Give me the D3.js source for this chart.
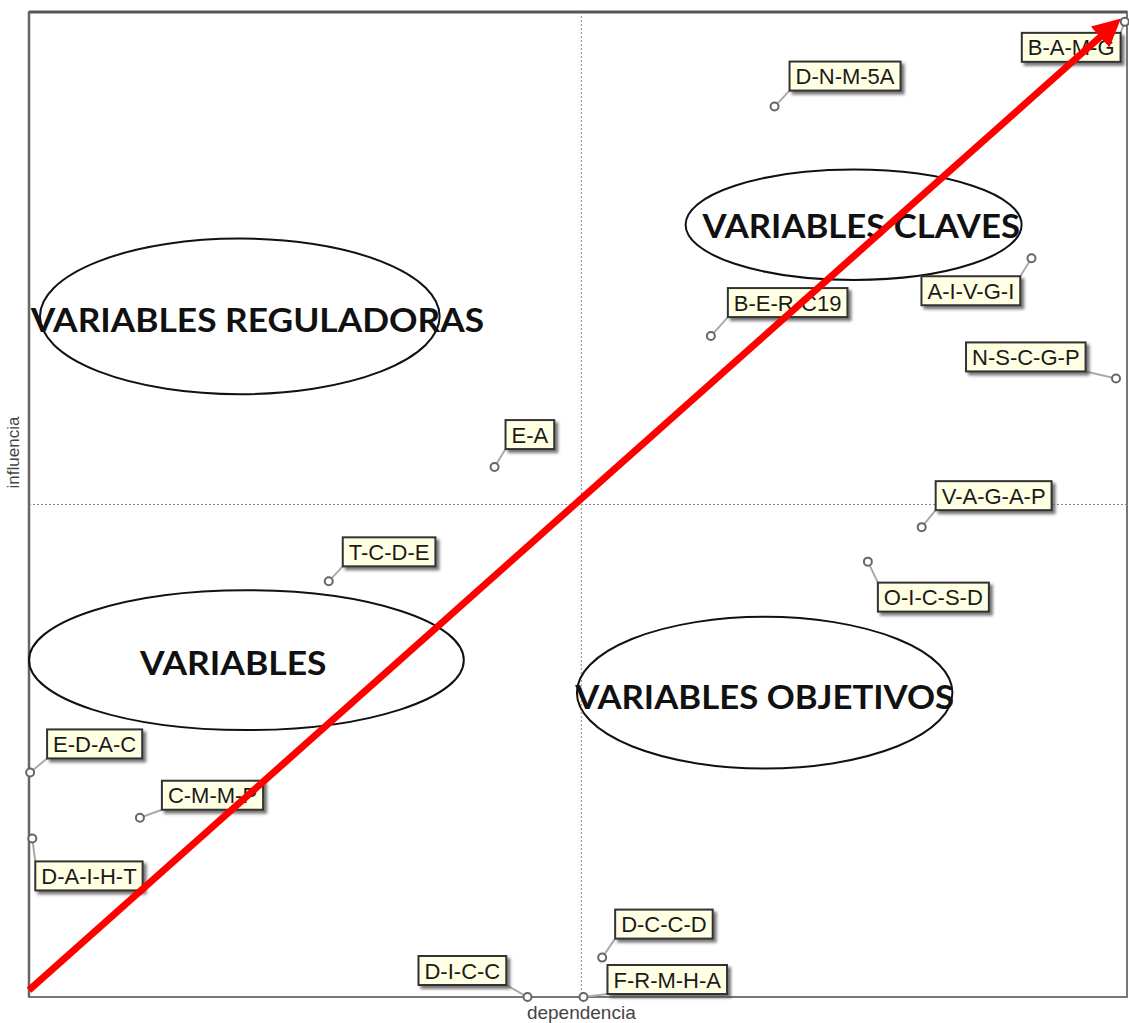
<!DOCTYPE html>
<html>
<head>
<meta charset="utf-8">
<script src="https://cdn.jsdelivr.net/npm/d3@7"></script>
<style>
  body { margin: 0; background: #fff; }
  svg { display: block; }
</style>
</head>
<body>
<script>
// variables (MICMAC) - dependencia / influencia
const names = ["B-A-M-G", "D-N-M-5A", "B-E-R-C19", "A-I-V-G-I", "N-S-C-G-P", "E-A", "T-C-D-E",
  "V-A-G-A-P", "O-I-C-S-D", "E-D-A-C", "C-M-M-P", "D-A-I-H-T", "D-I-C-C", "D-C-C-D", "F-R-M-H-A"];
const dependencia = [99.8, 67.9, 62.1, 91.3, 99.0, 42.4, 27.3, 81.3, 76.4, 0.1, 10.1, 0.3, 45.4, 52.2, 50.5];
const influencia = [99.0, 90.4, 67.1, 75.0, 62.8, 53.8, 42.2, 47.7, 44.2, 22.8, 18.2, 16.1, 0.0, 4.0, 0.0];

// mean lines splitting the quadrants
const xMid = 50.3, yMid = 50;

// where each label box sits relative to its point (px)
const labelOffsets = {
  "B-A-M-G": [-103, 11], "D-N-M-5A": [15, -45], "B-E-R-C19": [17, -48], "A-I-V-G-I": [-110, 18],
  "N-S-C-G-P": [-150, -36], "E-A": [11, -47], "T-C-D-E": [14, -44], "V-A-G-A-P": [14, -46],
  "O-I-C-S-D": [10, 21], "E-D-A-C": [17, -43], "C-M-M-P": [22, -37], "D-A-I-H-T": [3, 23],
  "D-I-C-C": [-109, -41], "D-C-C-D": [13, -48], "F-R-M-H-A": [24, -32]
};

// quadrant zones (data units)
const zoneNames = ["VARIABLES CLAVES", "VARIABLES REGULADORAS", "VARIABLES", "VARIABLES OBJETIVOS"];
const zoneCenters = [[75.1, 78.4], [19.2, 69.1], [19.8, 34.2], [67.0, 30.9]];
const zoneRadii = [[15.3, 5.6], [18.2, 7.9], [19.8, 7.1], [17.1, 7.7]];
const zoneText = [[75.8, 77.1, 28.9], [20.8, 67.5, 41.3], [18.6, 32.7, 17.0], [67.0, 29.2, 34.5]];

const arrowFrom = [0, 0.7];
const arrowTo = [98.5, 98.4];

const W = 1129, H = 1023;
const mLeft = 29, mTop = 12, mRight = 1127, mBottom = 997;

const svg = d3.select("body").append("svg").attr("width", W).attr("height", H);

const defs = svg.append("defs");
const f = defs.append("filter").attr("id", "shadow").attr("x", "-20%").attr("y", "-30%")
  .attr("width", "150%").attr("height", "180%");
f.append("feDropShadow").attr("dx", 3).attr("dy", 3).attr("stdDeviation", 1.5)
  .attr("flood-color", "#555").attr("flood-opacity", 0.8);
defs.append("marker").attr("id", "arrowhead")
  .attr("viewBox", "0 0 10 10").attr("refX", 5).attr("refY", 5)
  .attr("markerWidth", 4).attr("markerHeight", 4).attr("orient", "auto")
  .attr("markerUnits", "strokeWidth")
  .append("path").attr("d", "M0,0 L10,5 L0,10 z").attr("fill", "#f00");

const x = d3.scaleLinear().domain([0, 100]).range([mLeft, mRight]);
const y = d3.scaleLinear().domain([0, 100]).range([mBottom, mTop]);

// frame
svg.append("rect")
  .attr("x", mLeft).attr("y", mTop).attr("width", mRight - mLeft).attr("height", mBottom - mTop)
  .attr("fill", "none").attr("stroke", "#777").attr("stroke-width", 2);
svg.append("line").attr("x1", mLeft).attr("x2", mRight).attr("y1", mTop).attr("y2", mTop)
  .attr("stroke", "#555").attr("stroke-width", 3);
svg.append("line").attr("x1", mLeft).attr("x2", mLeft).attr("y1", mTop).attr("y2", mBottom)
  .attr("stroke", "#666").attr("stroke-width", 2.5);

// quadrant lines
svg.append("line").attr("x1", x(xMid)).attr("x2", x(xMid)).attr("y1", mTop).attr("y2", mBottom)
  .attr("stroke", "#888").attr("stroke-dasharray", "2,2");
svg.append("line").attr("x1", mLeft).attr("x2", mRight).attr("y1", y(yMid)).attr("y2", y(yMid))
  .attr("stroke", "#888").attr("stroke-dasharray", "2,2");

// axis titles
svg.append("text").attr("x", x(xMid)).attr("y", 1019).attr("text-anchor", "middle")
  .attr("font-family", "Liberation Sans, Arial, sans-serif").attr("font-size", 19)
  .attr("fill", "#444").text("dependencia");
svg.append("text").attr("transform", `translate(19,${(mTop + mBottom) / 2 - 52}) rotate(-90)`)
  .attr("text-anchor", "middle")
  .attr("font-family", "Liberation Sans, Arial, sans-serif").attr("font-size", 17)
  .attr("fill", "#444").text("influencia");

// zones
const zones = zoneNames.map((n, i) => ({ n, c: zoneCenters[i], r: zoneRadii[i], t: zoneText[i] }));
svg.selectAll("ellipse.zone").data(zones).enter().append("ellipse")
  .attr("class", "zone")
  .attr("cx", d => x(d.c[0])).attr("cy", d => y(d.c[1]))
  .attr("rx", d => x(d.r[0]) - x(0)).attr("ry", d => y(0) - y(d.r[1]))
  .attr("fill", "none").attr("stroke", "#111").attr("stroke-width", 2);
svg.selectAll("text.zone").data(zones).enter().append("text")
  .attr("class", "zone")
  .attr("x", d => x(d.t[0])).attr("y", d => y(d.t[1]))
  .attr("text-anchor", "middle")
  .attr("font-family", "Lato, sans-serif").attr("font-weight", "bold").attr("font-size", 33)
  .attr("textLength", d => x(d.t[2]) - x(0)).attr("lengthAdjust", "spacingAndGlyphs")
  .attr("fill", "#111").text(d => d.n);

// points and labels
const pts = names.map((n, i) => ({ n, dx: dependencia[i], iy: influencia[i] }));
const g = svg.selectAll("g.pt").data(pts).enter().append("g").attr("class", "pt");

g.each(function (d) {
  const sel = d3.select(this);
  const px = x(d.dx), py = y(d.iy);
  const off = labelOffsets[d.n];
  const bx = px + off[0], by = py + off[1];
  const txt = sel.append("text")
    .attr("font-family", "Liberation Sans, Arial, sans-serif").attr("font-size", 22)
    .attr("fill", "#1a1a1a").text(d.n);
  const w = txt.node().getComputedTextLength() + 12, h = 29;
  // leader line to closest point on the box
  const cx = Math.max(bx, Math.min(px, bx + w));
  const cy = Math.max(by, Math.min(py, by + h));
  sel.insert("line", "text").attr("x1", px).attr("y1", py).attr("x2", cx).attr("y2", cy)
    .attr("stroke", "#aaa").attr("stroke-width", 2);
  sel.insert("circle", "text").attr("cx", px).attr("cy", py).attr("r", 4)
    .attr("fill", "#fff").attr("stroke", "#666").attr("stroke-width", 2);
  sel.insert("rect", "text").attr("x", bx).attr("y", by).attr("width", w).attr("height", h)
    .attr("fill", "#ffffe4").attr("stroke", "#333").attr("stroke-width", 2)
    .attr("filter", "url(#shadow)");
  txt.attr("x", bx + 6).attr("y", by + h / 2 + 8);
});

// red arrow
svg.append("line")
  .attr("x1", x(arrowFrom[0])).attr("y1", y(arrowFrom[1]))
  .attr("x2", x(arrowTo[0])).attr("y2", y(arrowTo[1]))
  .attr("stroke", "#f00").attr("stroke-width", 7)
  .attr("marker-end", "url(#arrowhead)");
</script>
</body>
</html>
